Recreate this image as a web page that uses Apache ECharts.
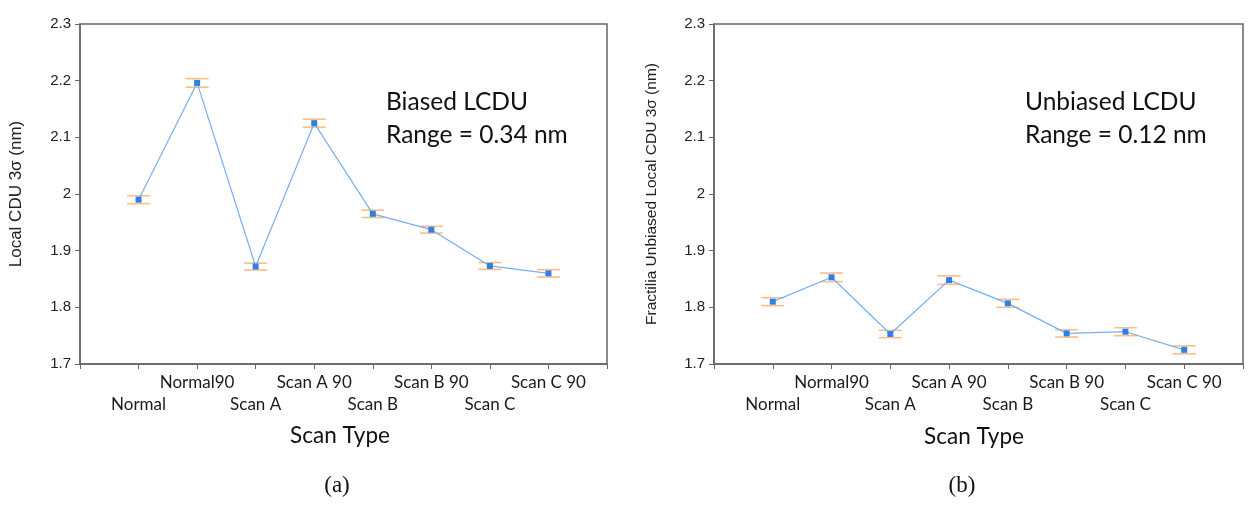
<!DOCTYPE html>
<html>
<head>
<meta charset="utf-8">
<script src="https://cdn.jsdelivr.net/npm/echarts@6/dist/echarts.min.js"></script>
<style>html,body{margin:0;padding:0;background:#fff}#c{width:1251px;height:508px}</style>
</head>
<body>
<div id="c"></div>
<script>
// ---- data ----
var categories = ['', 'Normal', 'Normal90', 'Scan A', 'Scan A 90', 'Scan B', 'Scan B 90', 'Scan C', 'Scan C 90', ''];
var biasedMean = [null, 1.990, 2.196, 1.872, 2.125, 1.965, 1.937, 1.873, 1.860, null];
var biasedErr  = [null, 0.007, 0.0075, 0.006, 0.007, 0.0065, 0.006, 0.006, 0.0065, null];
var unbiasedMean = [null, 1.810, 1.853, 1.753, 1.848, 1.807, 1.754, 1.757, 1.725, null];
var unbiasedErr  = [null, 0.007, 0.0075, 0.0065, 0.0075, 0.007, 0.0065, 0.007, 0.007, null];
var yTicks = [1.7, 1.8, 1.9, 2, 2.1, 2.2, 2.3];
var yNames = ['Local CDU 3\u03c3 (nm)', 'Fractilia Unbiased Local CDU 3\u03c3 (nm)'];
var notes = [['Biased LCDU', 'Range = 0.34 nm'], ['Unbiased LCDU', 'Range = 0.12 nm']];
var captions = ['(a)', '(b)'];
var xTitle = 'Scan Type';

var chart = echarts.init(document.getElementById('c'), null, {renderer: 'canvas'});
var axisColor = '#666';

function xAxis(gi) {
  return {
    type: 'category', gridIndex: gi, data: categories, boundaryGap: false,
    axisLine: {lineStyle: {color: axisColor, width: 1.5}},
    axisTick: {show: true, interval: 0, length: 5, lineStyle: {color: axisColor}},
    axisLabel: {
      interval: 0, margin: 8, color: '#1a1a1a', fontFamily: 'Lato', fontSize: 17,
      lineHeight: 22, verticalAlign: 'top',
      formatter: function (v, i) { if (!v) return ''; return (i % 2 === 1) ? '\n' + v : v; }
    },
    splitLine: {show: false}
  };
}
function yAxis(gi) {
  return {
    type: 'value', gridIndex: gi, min: 1.7, max: 2.3, interval: 0.1,
    name: yNames[gi], nameLocation: 'middle', nameGap: gi === 0 ? 55 : 54,
    nameTextStyle: {color: '#222', fontFamily: 'Liberation Sans', fontSize: gi === 0 ? 17 : 15.5},
    axisLine: {show: true, lineStyle: {color: axisColor, width: 1.5}},
    axisTick: {show: true, length: 5, lineStyle: {color: axisColor}},
    axisLabel: {
      margin: 9, color: '#222', fontFamily: 'Liberation Sans', fontSize: 15,
      formatter: function (v) { var r = Math.round(v * 10) / 10; return yTicks.indexOf(r) >= 0 ? String(r) : ''; }
    },
    splitLine: {show: false}
  };
}
function errSeries(gi, mean, err) {
  var d = [];
  for (var i = 0; i < mean.length; i++) if (mean[i] != null) d.push([i, mean[i] - err[i], mean[i] + err[i]]);
  return {
    type: 'custom', xAxisIndex: gi, yAxisIndex: gi, z: 1, data: d,
    renderItem: function (params, api) {
      var lo = api.coord([api.value(0), api.value(1)]);
      var hi = api.coord([api.value(0), api.value(2)]);
      var hw = 11.5;
      var st = {stroke: '#f9bf86', lineWidth: 1.6};
      return {type: 'group', children: [
        {type: 'line', shape: {x1: lo[0] - hw, y1: lo[1], x2: lo[0] + hw, y2: lo[1]}, style: st},
        {type: 'line', shape: {x1: hi[0] - hw, y1: hi[1], x2: hi[0] + hw, y2: hi[1]}, style: st}
      ]};
    }
  };
}
function lineSeries(gi, mean) {
  return {
    type: 'line', xAxisIndex: gi, yAxisIndex: gi, z: 3, data: mean,
    symbol: 'rect', symbolSize: 6, showSymbol: true, connectNulls: false,
    lineStyle: {color: '#78aef2', width: 1.2},
    itemStyle: {color: '#2f7fe8'}
  };
}

var option = {
  backgroundColor: '#fff',
  animation: false,
  grid: [
    {left: 80, top: 24, width: 527, height: 340, show: true, borderColor: axisColor, borderWidth: 1.5, backgroundColor: 'transparent'},
    {left: 714, top: 24, width: 529, height: 340, show: true, borderColor: axisColor, borderWidth: 1.5, backgroundColor: 'transparent'}
  ],
  xAxis: [xAxis(0), xAxis(1)],
  yAxis: [yAxis(0), yAxis(1)],
  series: [
    errSeries(0, biasedMean, biasedErr), lineSeries(0, biasedMean),
    errSeries(1, unbiasedMean, unbiasedErr), lineSeries(1, unbiasedMean)
  ],
  graphic: [
    {type: 'text', left: 386, top: 86, style: {text: notes[0].join('\n'), font: '24.5px Lato', fill: '#111', lineHeight: 33}},
    {type: 'text', left: 1025, top: 86, style: {text: notes[1].join('\n'), font: '24.5px Lato', fill: '#111', lineHeight: 33}},
    {type: 'text', x: 340, y: 436, style: {text: xTitle, font: '22.5px Lato', fill: '#111', align: 'center', verticalAlign: 'middle'}},
    {type: 'text', x: 974, y: 437, style: {text: xTitle, font: '22.5px Lato', fill: '#111', align: 'center', verticalAlign: 'middle'}},
    {type: 'text', x: 337, y: 486, style: {text: captions[0], font: '23px "Liberation Serif"', fill: '#111', align: 'center', verticalAlign: 'middle'}},
    {type: 'text', x: 962, y: 486, style: {text: captions[1], font: '23px "Liberation Serif"', fill: '#111', align: 'center', verticalAlign: 'middle'}}
  ]
};
chart.setOption(option);
</script>
</body>
</html>
